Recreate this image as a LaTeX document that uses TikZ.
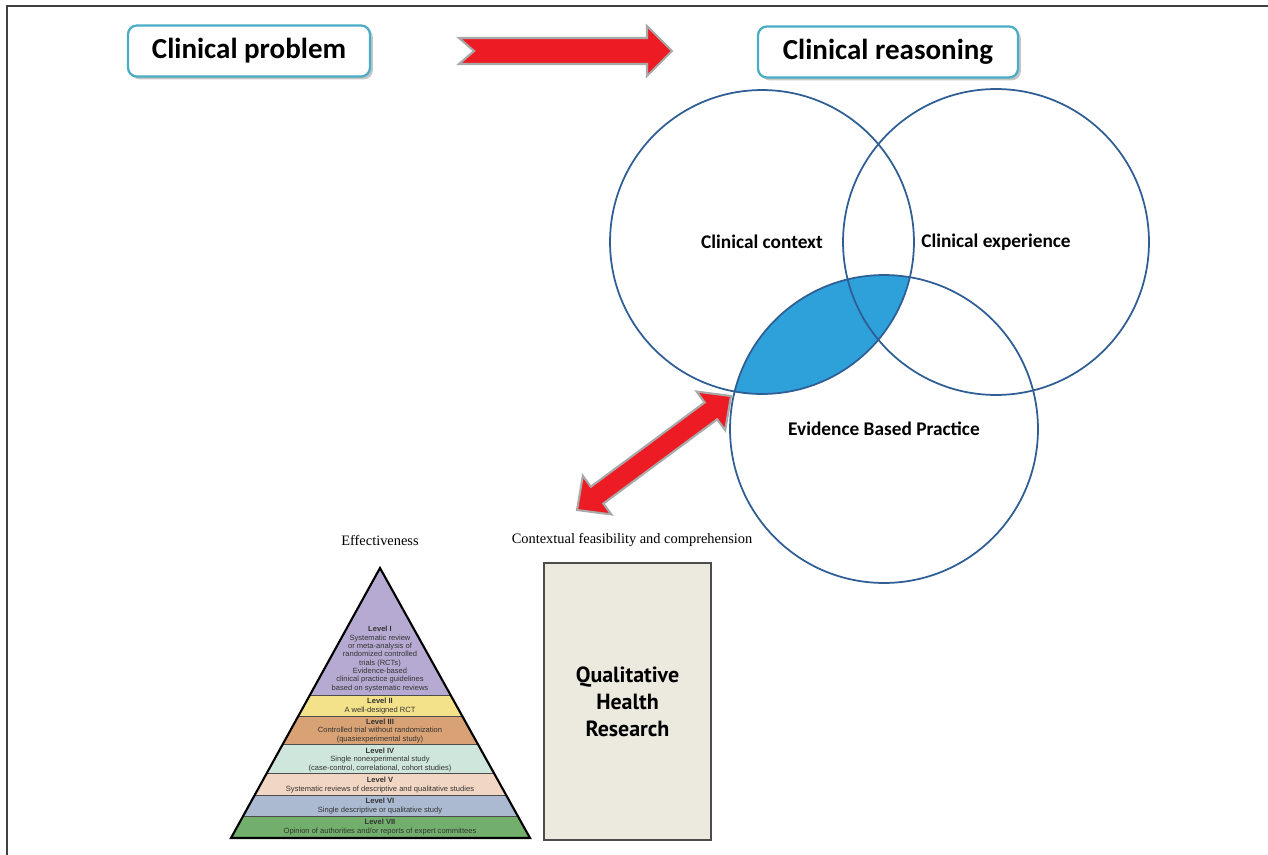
\documentclass[tikz,border=0pt]{standalone}
\usepackage{fontspec}
\setmainfont{Liberation Serif}
\newfontfamily\calibrifont{Carlito}
\newfontfamily\arialfont{Liberation Sans}
\newfontfamily\dinfont{PT Sans}
\usetikzlibrary{calc, shadows, positioning}
\definecolor{boxcyan}{HTML}{4BACC6}
\definecolor{arrowred}{HTML}{ED1C24}
\definecolor{arrowedge}{HTML}{A9A9A9}
\definecolor{vennblue}{HTML}{2F5E95}
\definecolor{lensblue}{HTML}{2EA0DA}
\definecolor{lvpurple}{HTML}{B7AAD2}
\definecolor{lvyellow}{HTML}{F4E28A}
\definecolor{lvorange}{HTML}{D9A274}
\definecolor{lvteal}{HTML}{CFE6DC}
\definecolor{lvpink}{HTML}{F2D6C4}
\definecolor{lvgray}{HTML}{ABBAD0}
\definecolor{lvgreen}{HTML}{72AF6C}
\definecolor{paper}{HTML}{ECEADF}

\begin{document}
\begin{tikzpicture}[% styles used in image code
      x = 0.02cm, y = -0.02cm,
title/.style = {draw=boxcyan, line width=1.3pt, rounded corners=5pt,
                fill=white, minimum width=#1, minimum height=1.02cm,
                font=\calibrifont\bfseries\fontsize{16.5}{19}\selectfont,
                drop shadow={shadow xshift=1.6pt, shadow yshift=-1.6pt,
                             fill=black!45}},
venn/.style  = {circle, draw=vennblue, line width=1pt,
                minimum size=#1, inner sep=0pt,
                font=\calibrifont\bfseries\fontsize{11}{13}\selectfont},
fat arrow/.style = {fill=arrowred, draw=arrowedge, line width=1.2pt,
                    line join=miter},
caption/.style = {font=\fontsize{8.2}{10}\selectfont},
lvtext/.style  = {align=center, inner sep=0pt, text=black!80,
                  font=\arialfont\fontsize{4.3}{4.75}\selectfont},
qhr/.style = {draw=black!70, line width=0.9pt, fill=paper,
              minimum width=3.34cm, minimum height=5.54cm,
              align=center,
              font=\dinfont\bfseries\fontsize{12.5}{15.3}\selectfont}
                    ]
	\useasboundingbox (0,0) rectangle (1268,855);
	% frame
	\draw[black!75, line width=1.5pt] (1268,6) -- (7,6) -- (7,855);

	% top boxes
	\node[title=4.84cm] (problem)   at (249,51) {Clinical problem};
	\node[title=5.2cm]  (reasoning) at (888,52) {Clinical reasoning};

	% notched arrow between the boxes
	\coordinate (tail) at (459,51);
	\coordinate (tip)  at (672,51);
	\draw[fat arrow] (tail |- 0,38) -- (647,38) -- (647,26) -- (tip)
	                 -- (647,76) -- (647,64) -- (tail |- 0,64)
	                 -- ($(tail)+(15,0)$) -- cycle;

	% venn diagram
	\coordinate (ctxc) at (762,242);
	\coordinate (expc) at (996,242);
	\coordinate (ebpc) at (884,429);
	\begin{scope}
		\clip (ctxc) circle[radius=3.04cm];
		\fill[lensblue] (ebpc) circle[radius=3.08cm];
	\end{scope}
	\node[venn=6.08cm] (context)    at (ctxc) {Clinical context};
	\node[venn=6.12cm] (experience) at (expc) {Clinical experience};
	\node[venn=6.16cm] (ebp)        at (ebpc) {Evidence Based Practice};

	% double arrow
	\coordinate (dA) at (577,510);
	\coordinate (dB) at (731,396);
	\draw[fat arrow] (dA)
		-- ($(dA)!0.5cm!(dB)!0.48cm!90:(dB)$)
		-- ($(dA)!0.5cm!(dB)!0.21cm!90:(dB)$)
		-- ($(dB)!0.5cm!(dA)!0.21cm!-90:(dA)$)
		-- ($(dB)!0.5cm!(dA)!0.48cm!-90:(dA)$)
		-- (dB)
		-- ($(dB)!0.5cm!(dA)!0.48cm!90:(dA)$)
		-- ($(dB)!0.5cm!(dA)!0.21cm!90:(dA)$)
		-- ($(dA)!0.5cm!(dB)!0.21cm!-90:(dB)$)
		-- ($(dA)!0.5cm!(dB)!0.48cm!-90:(dB)$)
		-- cycle;

	% captions
	\node[caption] (effect)  at (380,540) {Effectiveness};
	\node[caption] (context2) at (632,540) {Contextual feasibility and comprehension};

	% pyramid
	\coordinate (apex) at (380,568);
	\coordinate (bl)   at (231,838);
	\coordinate (br)   at (530,838);
	\begin{scope}
		\clip (apex) -- (bl) -- (br) -- cycle;
		\foreach \ya/\yb/\col in {568/696/lvpurple, 696/717/lvyellow,
		                          717/745/lvorange, 745/774/lvteal,
		                          774/796/lvpink, 796/817/lvgray,
		                          817/838/lvgreen}
		{
			\fill[\col] (200,\ya) rectangle (560,\yb);
			\draw[black!70, line width=0.6pt] (200,\yb) -- (560,\yb);
		}
	\end{scope}
	\draw[black, line width=1.2pt, line join=miter] (apex) -- (bl) -- (br) -- cycle;

	\node[lvtext] (lvI) at (380,659) {\textbf{Level I}\\Systematic review\\or meta-analysis of\\
		randomized controlled\\trials (RCTs)\\Evidence-based\\
		clinical practice guidelines\\based on systematic reviews};
	\node[lvtext] (lvII)  at (380,706) {\textbf{Level II}\\A well-designed RCT};
	\node[lvtext] (lvIII) at (380,731) {\textbf{Level III}\\Controlled trial without randomization\\
		(quasiexperimental study)};
	\node[lvtext] (lvIV)  at (380,760) {\textbf{Level IV}\\Single nonexperimental study\\
		(case-control, correlational, cohort studies)};
	\node[lvtext] (lvV)   at (380,785) {\textbf{Level V}\\Systematic reviews of descriptive and qualitative studies};
	\node[lvtext] (lvVI)  at (380,806) {\textbf{Level VI}\\Single descriptive or qualitative study};
	\node[lvtext] (lvVII) at (380,827) {\textbf{Level VII}\\Opinion of authorities and/or reports of expert committees};

	% journal box
	\node[qhr] (journal) at (627.5,701.5) {Qualitative\\Health\\Research};
\end{tikzpicture}
\end{document}
